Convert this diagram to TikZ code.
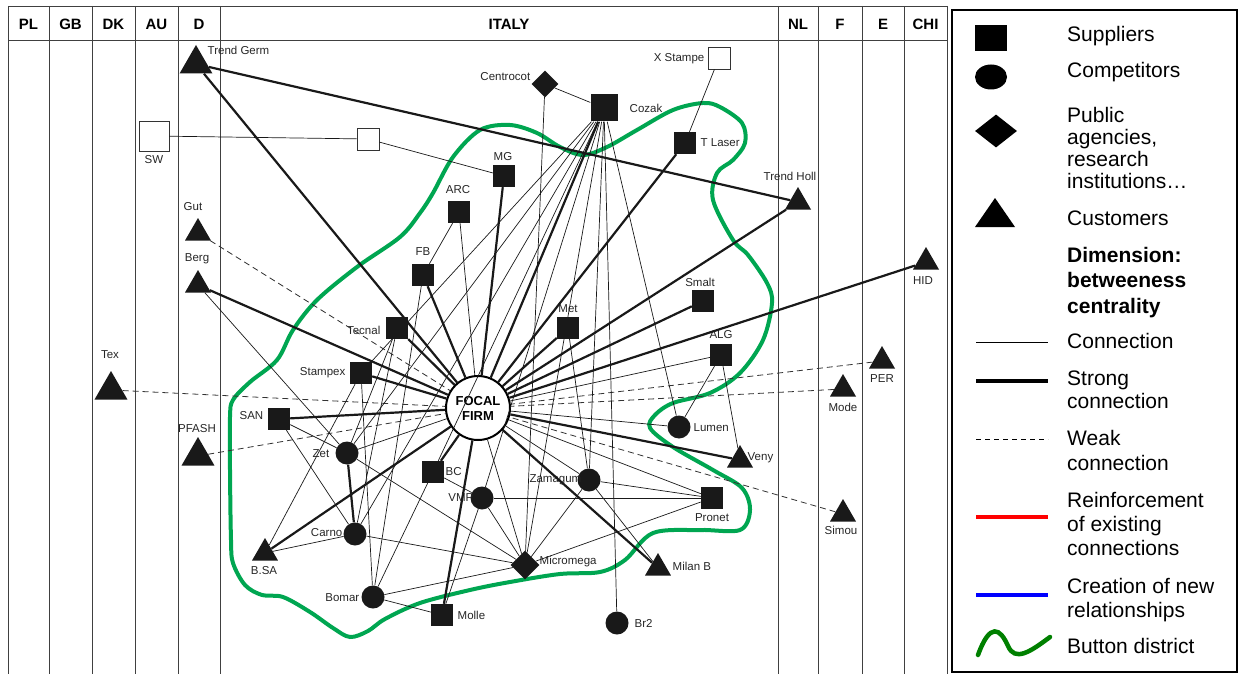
\documentclass[tikz,border=0pt]{standalone}
\usepackage{fontspec}
\setmainfont{Liberation Sans}
\usetikzlibrary{shapes.geometric, positioning}
\definecolor{district}{RGB}{0,166,81}
\definecolor{districtkey}{RGB}{0,128,0}

\begin{document}
\begin{tikzpicture}[x=1pt, y=-1pt,
  grid/.style={black!75, line width=0.9pt},
  head/.style={font=\fontsize{15}{16}\selectfont\bfseries},
  lbl/.style={font=\fontsize{11.5}{12}\selectfont, text=black!85, inner sep=0.5pt},
  supplier/.style={rectangle, fill=black!90, minimum size=22pt, inner sep=0pt},
  opensup/.style={rectangle, draw=black!80, fill=white, line width=0.8pt, minimum size=22pt, inner sep=0pt},
  competitor/.style={circle, fill=black!90, minimum size=23pt, inner sep=0pt},
  agency/.style={diamond, fill=black!90, minimum size=27pt, inner sep=0pt},
  customer/.style={regular polygon, regular polygon sides=3, fill=black!90, minimum size=30pt, inner sep=0pt},
  bigcustomer/.style={customer, minimum size=38pt},
  conn/.style={black!90, line width=0.7pt},
  strongconn/.style={black!90, line width=2.2pt},
  weakconn/.style={black!80, line width=0.8pt, dash pattern=on 6pt off 4pt},
  keytext/.style={font=\fontsize{21}{24}\selectfont, anchor=base west, align=left, inner sep=0pt}]
\useasboundingbox (0,0) rectangle (1239,674);

% country columns
\draw[grid] (8,6) -- (947,6);
\draw[grid] (8,40) -- (947,40);
\foreach \cx in {8,49,92,135,178,220,778,818,862,904,947}
  \draw[grid] (\cx,6) -- (\cx,674);
\node[head] (hPL) at (28.5,24) {PL};
\node[head] (hGB) at (70.5,24) {GB};
\node[head] (hDK) at (113.5,24) {DK};
\node[head] (hAU) at (156.5,24) {AU};
\node[head] (hD) at (199,24) {D};
\node[head] (hIT) at (509,24) {ITALY};
\node[head] (hNL) at (798,24) {NL};
\node[head] (hF) at (840,24) {F};
\node[head] (hE) at (883,24) {E};
\node[head] (hCHI) at (925.5,24) {CHI};

% button district
\draw[district, line width=4pt] plot[smooth cycle, tension=0.55] coordinates {
  (230,470) (231,540) (233,563) (245,585) (262,595) (283,597) (310,612) (333,628)
  (350,637) (368,631) (385,619) (420,603) (470,590) (510,582) (560,574) (600,572)
  (625,560) (653,533) (700,530) (740,530) (750,510) (742,488) (713,470) (673,447)
  (650,428) (655,415) (673,403) (710,393) (740,373) (763,340) (772,303) (767,283)
  (748,255) (733,240) (713,200) (717,173) (733,160) (745,143) (742,123) (720,107)
  (703,103) (673,110) (637,130) (607,147) (583,155) (560,147) (537,133) (510,125)
  (480,130) (453,157) (433,193) (420,213) (400,237) (357,267) (317,300) (293,330)
  (277,360) (250,382) (233,400) (230,417)};

% actors
\node[circle, draw, line width=2pt, fill=white, minimum size=64pt, inner sep=0pt, align=center,
  font=\fontsize{13}{15}\selectfont\bfseries] (focal) at (478,408) {FOCAL\\FIRM};

\node[bigcustomer] (tgerm) at (196,64) {};
\node[opensup, minimum size=30pt] (sw) at (154,136) {};
\node[opensup] (swlink) at (368,139) {};
\node[customer] (gut) at (198,233) {};
\node[customer] (berg) at (198,285) {};
\node[bigcustomer] (tex) at (111,390) {};
\node[bigcustomer] (pfash) at (198,456) {};
\node[agency] (centro) at (545,84) {};
\node[opensup] (xst) at (719,58) {};
\node[supplier, minimum size=27pt] (cozak) at (604,108) {};
\node[supplier] (tlaser) at (685,143) {};
\node[customer] (tholl) at (798,202) {};
\node[supplier] (mg) at (504,176) {};
\node[supplier] (arc) at (459,212) {};
\node[supplier] (fb) at (423,275) {};
\node[supplier] (tecnal) at (397,328) {};
\node[supplier] (stampex) at (361,373) {};
\node[supplier] (san) at (279,419) {};
\node[supplier] (met) at (568,328) {};
\node[supplier] (smalt) at (703,301) {};
\node[supplier] (alg) at (721,355) {};
\node[competitor] (lumen) at (679,427) {};
\node[customer] (veny) at (740,460) {};
\node[customer] (hid) at (926,262) {};
\node[customer] (per) at (882,361) {};
\node[customer] (mode) at (843,389) {};
\node[customer] (simou) at (843,514) {};
\node[competitor] (zet) at (347,453) {};
\node[supplier] (bc) at (433,472) {};
\node[competitor] (vmp) at (482,498) {};
\node[competitor] (zamag) at (589,480) {};
\node[supplier] (pronet) at (712,498) {};
\node[competitor] (carno) at (355,534) {};
\node[customer] (bsa) at (265,553) {};
\node[agency, minimum size=29pt] (microm) at (525,565) {};
\node[customer] (milanb) at (658,568) {};
\node[competitor] (bomar) at (373,597) {};
\node[supplier] (molle) at (442,615) {};
\node[competitor] (br2) at (617,623) {};

% names
\node[lbl, anchor=west] (tgermL) at (207,50) {Trend Germ};
\node[lbl] (swL) at (154,160) {SW};
\node[lbl] (gutL) at (193,207) {Gut};
\node[lbl] (bergL) at (197,259) {Berg};
\node[lbl] (texL) at (110,355) {Tex};
\node[lbl] (pfashL) at (197,429) {PFASH};
\node[lbl, anchor=east] (centroL) at (531,77) {Centrocot};
\node[lbl, anchor=east] (xstL) at (705,59) {X Stampe};
\node[lbl, anchor=west] (cozakL) at (629,108) {Cozak};
\node[lbl, anchor=west] (tlaserL) at (700,143) {T Laser};
\node[lbl] (tholLL) at (790,176) {Trend Holl};
\node[lbl] (mgL) at (503,157) {MG};
\node[lbl] (arcL) at (458,190) {ARC};
\node[lbl] (fbL) at (423,252) {FB};
\node[lbl, anchor=east] (tecnalL) at (381,330) {Tecnal};
\node[lbl, anchor=east] (stampexL) at (346,373) {Stampex};
\node[lbl, anchor=east] (sanL) at (264,416) {SAN};
\node[lbl] (metL) at (568,309) {Met};
\node[lbl] (smaltL) at (700,282) {Smalt};
\node[lbl] (algL) at (721,335) {ALG};
\node[lbl, anchor=west] (lumenL) at (693,428) {Lumen};
\node[lbl, anchor=west] (venyL) at (747,458) {Veny};
\node[lbl] (hidL) at (923,281) {HID};
\node[lbl] (perL) at (882,379) {PER};
\node[lbl] (modeL) at (843,407) {Mode};
\node[lbl] (simouL) at (841,530) {Simou};
\node[lbl, anchor=east] (zetL) at (330,454) {Zet};
\node[lbl, anchor=west] (bcL) at (445,472) {BC};
\node[lbl, anchor=east] (vmpL) at (474,498) {VMP};
\node[lbl, anchor=east] (zamagL) at (582,480) {Zamagum};
\node[lbl] (pronetL) at (712,518) {Pronet};
\node[lbl, anchor=east] (carnoL) at (343,533) {Carno};
\node[lbl] (bsaL) at (264,571) {B.SA};
\node[lbl, anchor=west] (micromL) at (539,562) {Micromega};
\node[lbl, anchor=west] (milanbL) at (672,566) {Milan B};
\node[lbl, anchor=east] (bomarL) at (360,598) {Bomar};
\node[lbl, anchor=west] (molleL) at (457,615) {Molle};
\node[lbl, anchor=west] (br2L) at (634,623) {Br2};

% strong connections
\draw[strongconn] (tgerm) -- (tholl);
\draw[strongconn] (tgerm) -- (focal);
\draw[strongconn] (berg) -- (focal);
\draw[strongconn] (tecnal) -- (focal);
\draw[strongconn] (stampex) -- (focal);
\draw[strongconn] (san) -- (focal);
\draw[strongconn] (fb) -- (focal);
\draw[strongconn] (mg) -- (focal);
\draw[strongconn] (cozak) -- (focal);
\draw[strongconn] (tlaser) -- (focal);
\draw[strongconn] (tholl) -- (focal);
\draw[strongconn] (hid) -- (focal);
\draw[strongconn] (smalt) -- (focal);
\draw[strongconn] (met) -- (focal);
\draw[strongconn] (veny) -- (focal);
\draw[strongconn] (milanb) -- (focal);
\draw[strongconn] (molle) -- (focal);
\draw[strongconn] (bc) -- (focal);
\draw[strongconn] (bsa) -- (focal);
\draw[strongconn] (zet) -- (carno);

% weak connections
\draw[weakconn] (gut) -- (focal);
\draw[weakconn] (tex) -- (focal);
\draw[weakconn] (pfash) -- (focal);
\draw[weakconn] (per) -- (focal);
\draw[weakconn] (mode) -- (focal);
\draw[weakconn] (simou) -- (focal);

% connections
\draw[conn] (sw) -- (swlink);
\draw[conn] (swlink) -- (mg);
\draw[conn] (xst) -- (tlaser);
\draw[conn] (centro) -- (cozak);
\draw[conn] (centro) -- (microm);
\draw[conn] (arc) -- (fb);
\draw[conn] (arc) -- (focal);
\draw[conn] (cozak) -- (stampex);
\draw[conn] (cozak) -- (zet);
\draw[conn] (cozak) -- (carno);
\draw[conn] (cozak) -- (bc);
\draw[conn] (cozak) -- (vmp);
\draw[conn] (cozak) -- (microm);
\draw[conn] (cozak) -- (zamag);
\draw[conn] (cozak) -- (br2);
\draw[conn] (cozak) -- (lumen);
\draw[conn] (fb) -- (bomar);
\draw[conn] (tecnal) -- (zet);
\draw[conn] (tecnal) -- (carno);
\draw[conn] (stampex) -- (bomar);
\draw[conn] (stampex) -- (bsa);
\draw[conn] (berg) -- (zet);
\draw[conn] (san) -- (zet);
\draw[conn] (san) -- (carno);
\draw[conn] (zet) -- (focal);
\draw[conn] (zet) -- (microm);
\draw[conn] (carno) -- (bsa);
\draw[conn] (carno) -- (microm);
\draw[conn] (bomar) -- (molle);
\draw[conn] (bomar) -- (microm);
\draw[conn] (bomar) -- (bc);
\draw[conn] (bc) -- (vmp);
\draw[conn] (vmp) -- (molle);
\draw[conn] (vmp) -- (microm);
\draw[conn] (vmp) -- (pronet);
\draw[conn] (focal) -- (microm);
\draw[conn] (focal) -- (zamag);
\draw[conn] (focal) -- (pronet);
\draw[conn] (focal) -- (lumen);
\draw[conn] (focal) -- (alg);
\draw[conn] (zamag) -- (pronet);
\draw[conn] (zamag) -- (microm);
\draw[conn] (zamag) -- (milanb);
\draw[conn] (met) -- (zamag);
\draw[conn] (alg) -- (lumen);
\draw[conn] (alg) -- (veny);
\draw[conn] (microm) -- (pronet);

% legend
\draw[line width=1.5pt] (952,10) rectangle (1237,672);
\node[rectangle, fill=black, minimum width=32pt, minimum height=26pt, inner sep=0pt] (keysup) at (991,38) {};
\node[ellipse, fill=black, minimum width=32pt, minimum height=25pt, inner sep=0pt] (keycomp) at (991,77) {};
\node[diamond, fill=black, aspect=1.27, minimum width=42pt, minimum height=33pt, inner sep=0pt] (keyagency) at (996,131) {};
\fill (975,227) -- (995,198) -- (1015,227) -- cycle;
\draw[line width=0.9pt] (976,342) -- (1048,342);
\draw[line width=4.5pt] (976,381) -- (1048,381);
\draw[line width=0.9pt, dash pattern=on 5pt off 4pt] (976,439) -- (1048,439);
\draw[red, line width=4.5pt] (976,517) -- (1048,517);
\draw[blue, line width=4.5pt] (976,595) -- (1048,595);
\draw[districtkey, line width=4.5pt, line cap=round] (978,655) .. controls (990,622) and (1000,628) .. (1008,646)
  .. controls (1015,662) and (1030,652) .. (1050,637);

% multi-line keys sit on the baseline of their last line
\node[keytext] (ksup) at (1067,42) {Suppliers};
\node[keytext] (kcomp) at (1067,78) {Competitors};
\node[keytext, font=\fontsize{21}{22}\selectfont] (kagency) at (1067,188) {Public\\agencies,\\research\\institutions…};
\node[keytext] (kcust) at (1067,225) {Customers};
\node[keytext, font=\fontsize{21}{25.5}\selectfont\bfseries] (kdim) at (1067,313) {Dimension:\\betweeness\\centrality};
\node[keytext] (kconn) at (1067,348) {Connection};
\node[keytext, font=\fontsize{21}{23}\selectfont] (kstrong) at (1067,408) {Strong\\connection};
\node[keytext, font=\fontsize{21}{25}\selectfont] (kweak) at (1067,470) {Weak\\connection};
\node[keytext] (kreinf) at (1067,555) {Reinforcement\\of existing\\connections};
\node[keytext] (knew) at (1067,617) {Creation of new\\relationships};
\node[keytext] (kdistrict) at (1067,653) {Button district};
\end{tikzpicture}
\end{document}
